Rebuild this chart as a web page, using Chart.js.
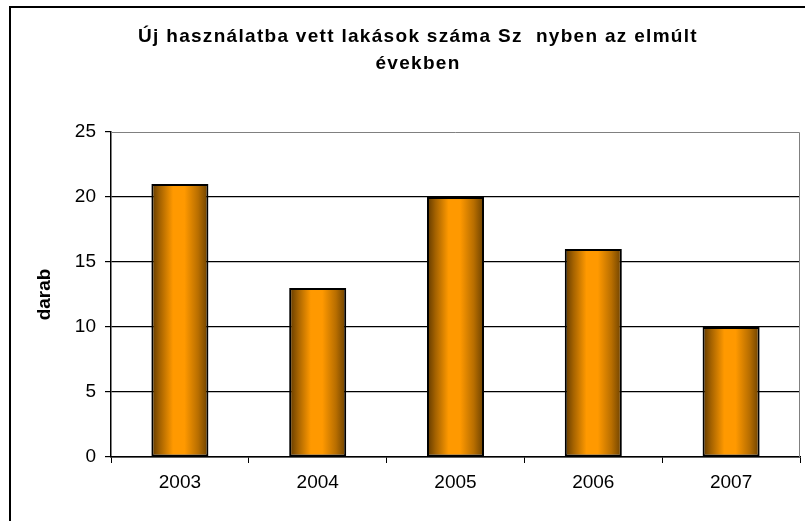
<!DOCTYPE html>
<html lang="hu">
<head>
<meta charset="utf-8">
<title>Új használatba vett lakások</title>
<script src="https://cdn.jsdelivr.net/npm/chart.js@4/dist/chart.umd.min.js"></script>
<style>
  html, body { margin: 0; padding: 0; background: #ffffff; }
  #wrap { width: 805px; height: 521px; position: relative; }
</style>
</head>
<body>
<div id="wrap"><canvas id="c" width="805" height="521"></canvas></div>
<script>
// Data
const years = ['2003', '2004', '2005', '2006', '2007'];
const flats = [21, 13, 20, 16, 10];
const titleLines = ['Új használatba vett lakások száma Sz  nyben az elmúlt', 'években'];
const axisTitle = 'darab';

const FONT = 'Arial, "Liberation Sans", sans-serif';
const BAR_PCT = 0.414;

// Horizontal shaded fill for each bar (dark edges, bright orange core)
function barFill(ctx) {
  const chart = ctx.chart;
  const xs = chart.scales && chart.scales.x;
  if (!xs || ctx.dataIndex === undefined) return '#ff9900';
  const cx = xs.getPixelForValue(ctx.dataIndex);
  const w = (xs.width / years.length) * BAR_PCT;
  if (!isFinite(cx) || !isFinite(w) || w <= 0) return '#ff9900';
  const g = chart.ctx.createLinearGradient(cx - w / 2, 0, cx + w / 2, 0);
  g.addColorStop(0.00, '#5e3800');
  g.addColorStop(0.15, '#a46200');
  g.addColorStop(0.38, '#ff9900');
  g.addColorStop(0.58, '#ff9900');
  g.addColorStop(0.82, '#b86e00');
  g.addColorStop(1.00, '#6a4000');
  return g;
}

// Frame, title and plot-area border
const decor = {
  id: 'decor',
  beforeDraw(chart) {
    const c = chart.ctx;
    c.save();
    c.fillStyle = '#ffffff';
    c.fillRect(0, 0, chart.width, chart.height);
    c.strokeStyle = '#000000';
    c.lineWidth = 2;
    c.beginPath();
    c.moveTo(10, chart.height);
    c.lineTo(10, 7);
    c.lineTo(chart.width, 7);
    c.stroke();
    c.restore();
  },
  afterDraw(chart) {
    const c = chart.ctx;
    const a = chart.chartArea;
    c.save();
    c.strokeStyle = '#808080';
    c.lineWidth = 1;
    c.beginPath();
    c.moveTo(a.left, a.top + 0.5);
    c.lineTo(a.right - 0.5, a.top + 0.5);
    c.lineTo(a.right - 0.5, a.bottom);
    c.stroke();
    c.fillStyle = '#000000';
    c.font = 'bold 19px ' + FONT;
    c.textAlign = 'center';
    c.textBaseline = 'alphabetic';
    if ('letterSpacing' in c) c.letterSpacing = '1.3px';
    c.fillText(titleLines[0], 418, 42);
    c.fillText(titleLines[1], 418, 69);
    c.restore();
  }
};

new Chart(document.getElementById('c'), {
  type: 'bar',
  data: {
    labels: years,
    datasets: [{
      data: flats,
      backgroundColor: barFill,
      borderColor: '#000000',
      borderWidth: 2,
      borderSkipped: false,
      categoryPercentage: 1,
      barPercentage: BAR_PCT
    }]
  },
  options: {
    responsive: false,
    animation: false,
    devicePixelRatio: 1,
    layout: { padding: { top: 132, right: 5, bottom: 0, left: 0 } },
    plugins: {
      legend: { display: false },
      title: { display: false },
      tooltip: { enabled: false }
    },
    scales: {
      x: {
        offset: true,
        afterFit(s) { s.height = 64; },
        grid: {
          offset: true,
          drawOnChartArea: false,
          drawTicks: true,
          tickLength: 6,
          color: '#000000',
          lineWidth: 1
        },
        border: { display: true, color: '#000000', width: 1.5 },
        ticks: {
          color: '#000000',
          font: { family: FONT, size: 19 },
          padding: 8,
          maxRotation: 0
        }
      },
      y: {
        min: 0,
        max: 25,
        afterFit(s) { s.width = 111; },
        grid: {
          color: (ctx) => ctx.tick && ctx.tick.value === 25 ? 'rgba(0,0,0,0)' : '#000000',
          tickColor: '#000000',
          lineWidth: 1.2,
          drawTicks: true,
          tickLength: 6
        },
        border: { display: true, color: '#000000', width: 1.5 },
        ticks: {
          stepSize: 5,
          color: '#000000',
          font: { family: FONT, size: 19 },
          padding: 9
        },
        title: {
          display: true,
          text: axisTitle,
          color: '#000000',
          font: { family: FONT, size: 19, weight: 'bold' },
          padding: { top: 33, bottom: 0 }
        }
      }
    }
  },
  plugins: [decor]
});
</script>
</body>
</html>
